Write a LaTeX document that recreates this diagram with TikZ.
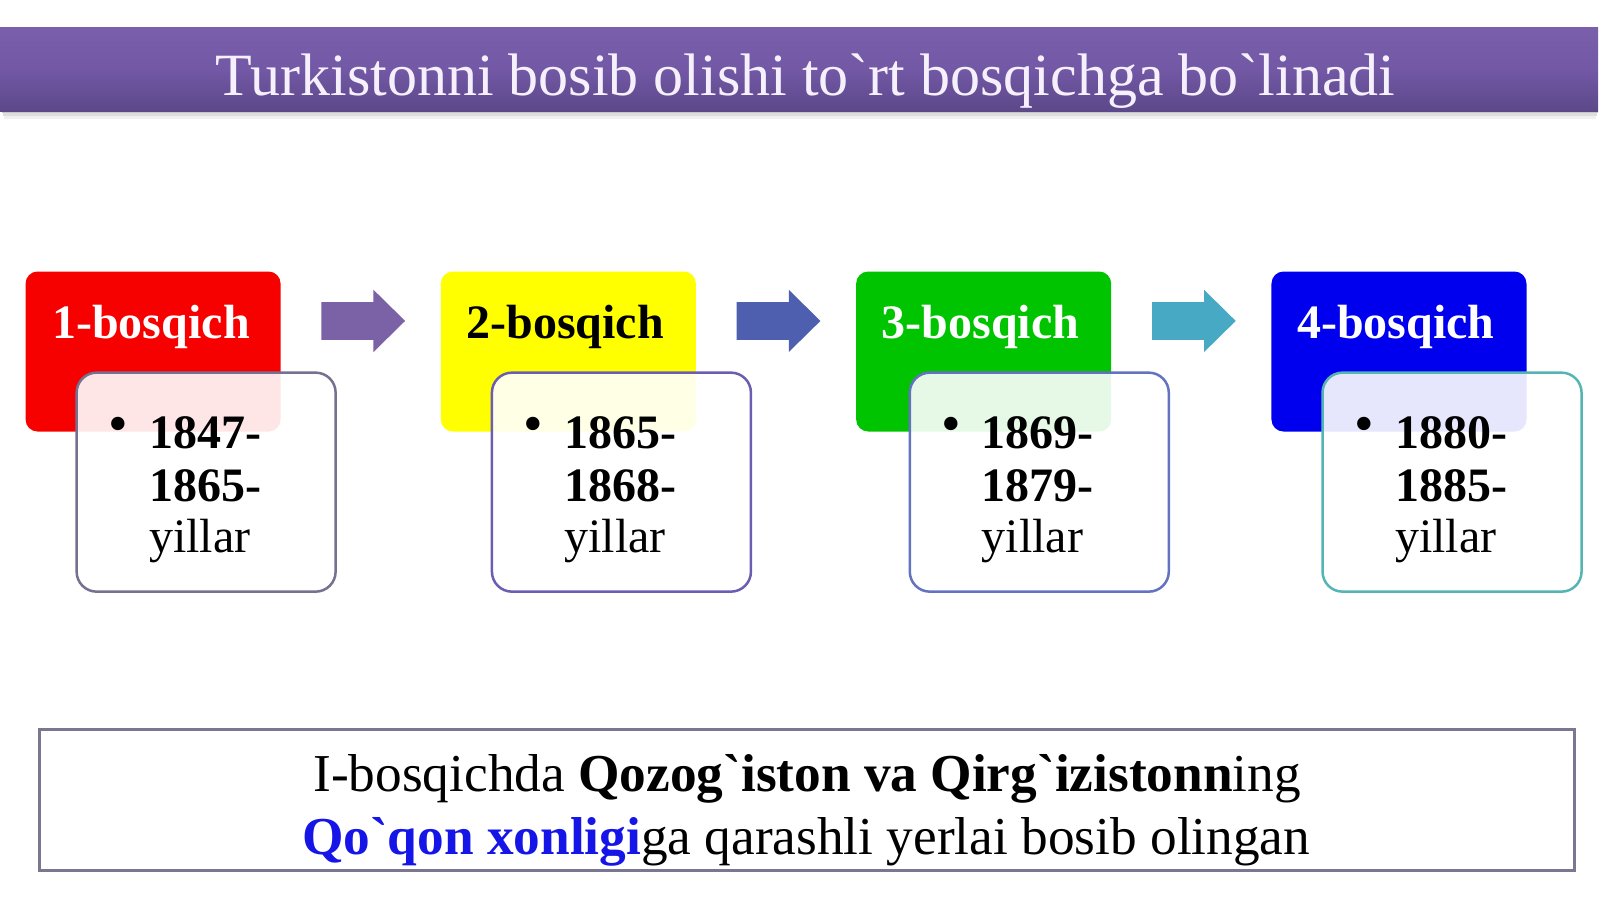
\documentclass[tikz,border=0pt]{standalone}
\usepackage{fontspec}
\setmainfont{Liberation Serif}[Ligatures=TeXOff]
\definecolor{barTop}{HTML}{7A60AB}
\definecolor{barMid}{HTML}{7258A5}
\definecolor{barBot}{HTML}{5C4889}
\definecolor{titleTxt}{HTML}{F6F0FC}
\definecolor{stRed}{HTML}{F60000}
\definecolor{stYellow}{HTML}{FFFF00}
\definecolor{stGreen}{HTML}{00C400}
\definecolor{stBlue}{HTML}{0000EE}
\definecolor{brdA}{HTML}{787090}
\definecolor{brdB}{HTML}{6B5EB2}
\definecolor{brdC}{HTML}{6373C0}
\definecolor{brdD}{HTML}{55B4B4}
\definecolor{arrA}{HTML}{7B62A6}
\definecolor{arrB}{HTML}{4F5FB0}
\definecolor{arrC}{HTML}{48A9C5}
\definecolor{noteBrd}{HTML}{7A7890}
\definecolor{noteBlue}{HTML}{1515E8}
\begin{document}
\begin{tikzpicture}[x=1.0204pt,y=-1.0204pt,
  stagebox/.style={rounded corners=12pt, minimum width=255pt, minimum height=160pt, inner sep=0pt},
  stagelabel/.style={anchor=base, inner sep=0pt, font=\fontsize{48}{52}\selectfont\bfseries},
  yearbox/.style={draw, line width=2.5pt, rounded corners=20pt, fill=white, fill opacity=0.9, minimum width=259pt, minimum height=219pt, inner sep=0pt},
  yearline/.style={anchor=base west, inner sep=0pt, font=\fontsize{48}{52}\selectfont},
  bulletmark/.style={anchor=center, inner sep=0pt, font=\fontsize{56}{56}\selectfont},
  noteline/.style={anchor=base, inner sep=0pt, font=\fontsize{53.3}{56}\selectfont}
]
\useasboundingbox (0,0) rectangle (1568,881);
\fill[white] (0,0) rectangle (1568,881);

% title bar shadow
\fill[black, opacity=0.22] (2,109) rectangle (1566,111);
\fill[black, opacity=0.13] (3,111) rectangle (1565,113.5);
\fill[black, opacity=0.06] (4,113.5) rectangle (1564,117);
% title bar
\node[minimum width=1598pt, minimum height=84pt, inner sep=0pt,
      top color=barTop, bottom color=barBot, middle color=barMid] (title) at (783,68) {};
\node[anchor=base, inner sep=0pt, text=titleTxt, font=\fontsize{60}{64}\selectfont] (titletext) at (789.5,94)
  {Turkistonni bosib olishi to`rt bosqichga bo`linadi};

% stage boxes
\node[stagebox, fill=stRed]    (s1) at (150,344.5) {};
\node[stagebox, fill=stYellow] (s2) at (557,344.5) {};
\node[stagebox, fill=stGreen]  (s3) at (964,344.5) {};
\node[stagebox, fill=stBlue]   (s4) at (1371,344.5) {};
\node[stagelabel, text=white] (l1) at (148,332) {1-bosqich};
\node[stagelabel, text=black] (l2) at (554,332) {2-bosqich};
\node[stagelabel, text=white] (l3) at (961,332) {3-bosqich};
\node[stagelabel, text=white] (l4) at (1368,332) {4-bosqich};

% arrows
\fill[arrA] (315,296) -- (366,296) -- (366,284) -- (397,314.5) -- (366,345) -- (366,333) -- (315,333) -- cycle;
\fill[arrB] (722,296) -- (773,296) -- (773,284) -- (804,314.5) -- (773,345) -- (773,333) -- (722,333) -- cycle;
\fill[arrC] (1129,296) -- (1180,296) -- (1180,284) -- (1211,314.5) -- (1180,345) -- (1180,333) -- (1129,333) -- cycle;

% year boxes
\node[yearbox, draw=brdA] (y1) at (202,472.5) {};
\node[yearbox, draw=brdB] (y2) at (609,472.5) {};
\node[yearbox, draw=brdC] (y3) at (1018.5,472.5) {};
\node[yearbox, draw=brdD] (y4) at (1423,472.5) {};

\node[bulletmark] (b1) at (116,421) {•};
\node[yearline] (y1a) at (146,440) {\bfseries 1847-};
\node[yearline] (y1b) at (146,491) {\bfseries 1865-};
\node[yearline] (y1c) at (146,541) {yillar};

\node[bulletmark] (b2) at (523,421) {•};
\node[yearline] (y2a) at (553,440) {\bfseries 1865-};
\node[yearline] (y2b) at (553,491) {\bfseries 1868-};
\node[yearline] (y2c) at (553,541) {yillar};

\node[bulletmark] (b3) at (932,421) {•};
\node[yearline] (y3a) at (962,440) {\bfseries 1869-};
\node[yearline] (y3b) at (962,491) {\bfseries 1879-};
\node[yearline] (y3c) at (962,541) {yillar};

\node[bulletmark] (b4) at (1337,421) {•};
\node[yearline] (y4a) at (1367,440) {\bfseries 1880-};
\node[yearline] (y4b) at (1367,491) {\bfseries 1885-};
\node[yearline] (y4c) at (1367,541) {yillar};

% note box
\node[draw=noteBrd, line width=3pt, fill=white, minimum width=1535pt, minimum height=141pt, inner sep=0pt] (note) at (791,784) {};
\node[noteline] (n1) at (791,776) {I-bosqichda \textbf{Qozog`iston va Qirg`izistonn}ing};
\node[noteline] (n2) at (790,837) {\textcolor{noteBlue}{\textbf{Qo`qon xonligi}}ga qarashli yerlai bosib olingan};
\end{tikzpicture}
\end{document}
